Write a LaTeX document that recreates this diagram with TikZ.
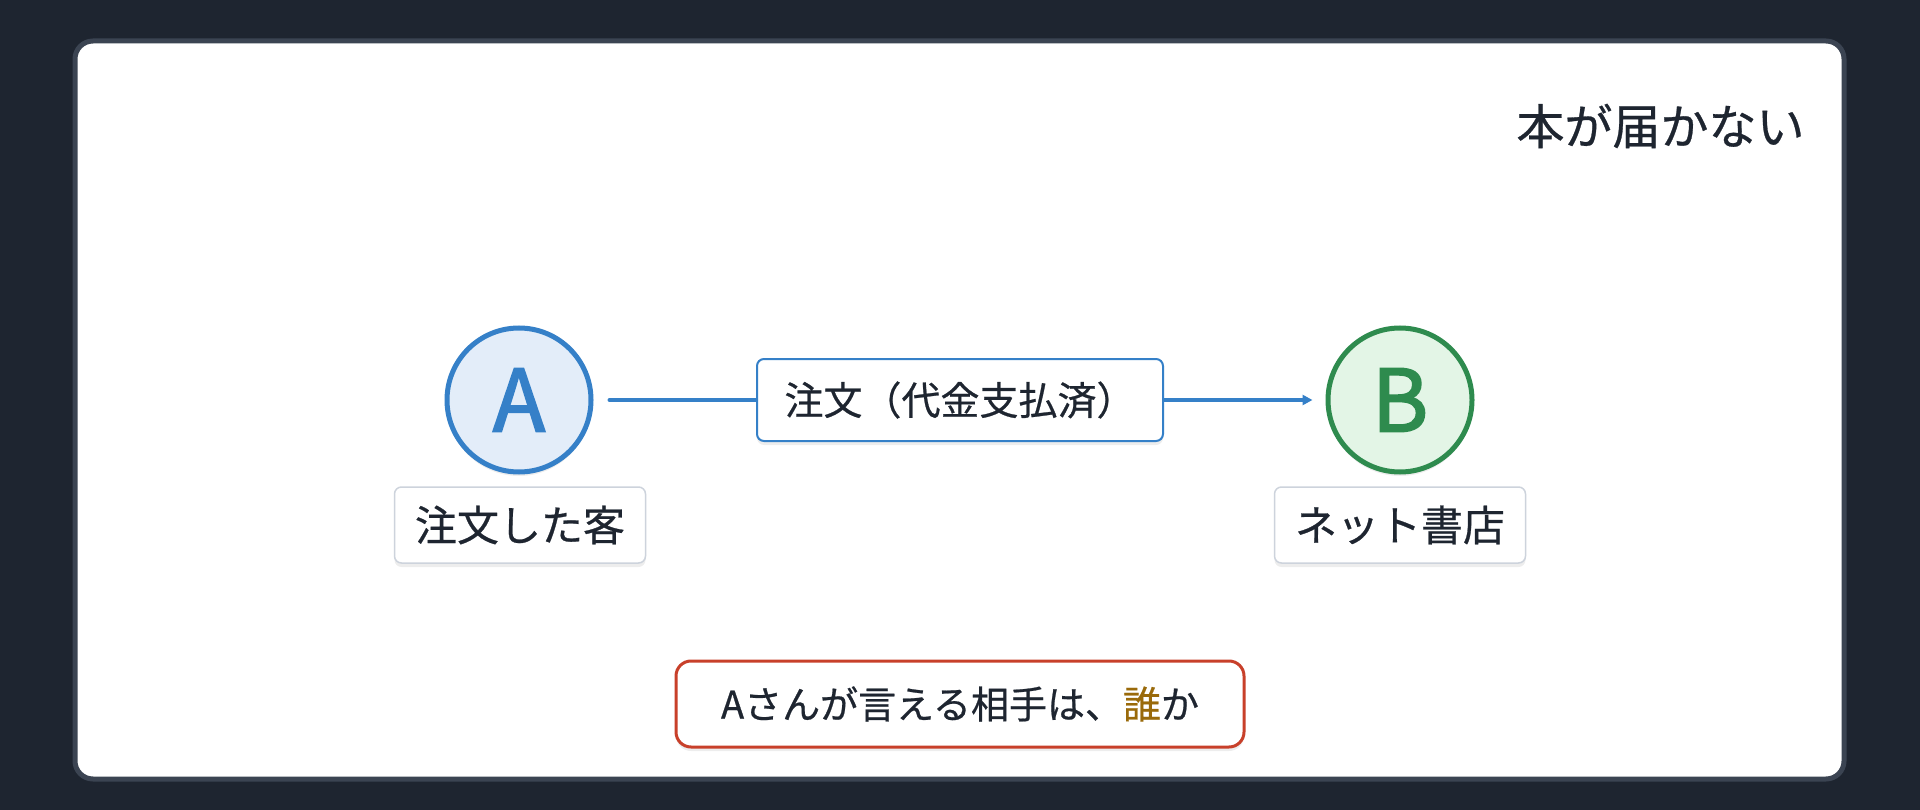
\documentclass[tikz,border=0pt]{standalone}
\usepackage{fontspec}
\setmainfont{Noto Sans CJK JP}[FakeBold=0.6]
\newfontfamily\letterfont{Noto Sans CJK JP}[FakeBold=2.2]
\usetikzlibrary{arrows.meta,shadows}
\definecolor{bgdark}{HTML}{1E2530}
\definecolor{cardborder}{HTML}{3B4452}
\definecolor{txt}{HTML}{1E2530}
\definecolor{ablue}{HTML}{3580C8}
\definecolor{afill}{HTML}{E3EDF9}
\definecolor{bgreen}{HTML}{2E8B4E}
\definecolor{bfill}{HTML}{E3F5E6}
\definecolor{lblborder}{HTML}{CDD3DC}
\definecolor{redb}{HTML}{C8402A}
\definecolor{gold}{HTML}{9A6A0A}
\tikzset{
  softshadow/.style={drop shadow={shadow xshift=0pt,shadow yshift=-4pt,fill=black,opacity=0.07}},
  party/.style={circle,line width=5pt,minimum size=144pt,inner sep=0pt,softshadow,font=\fontsize{86}{86}\letterfont},
  lbl/.style={draw=lblborder,line width=1.5pt,rounded corners=7pt,fill=white,minimum width=251pt,minimum height=76pt,inner sep=0pt,text=txt,font=\fontsize{42}{50}\selectfont,softshadow},
  edgelbl/.style={draw=ablue,line width=2pt,rounded corners=7pt,fill=white,minimum width=406pt,minimum height=82pt,inner sep=0pt,text=txt,font=\fontsize{39}{46}\selectfont,softshadow},
  qbox/.style={draw=redb,line width=3pt,rounded corners=15pt,fill=white,minimum width=568pt,minimum height=86pt,inner sep=0pt,text=txt,font=\fontsize{38}{46}\selectfont,softshadow},
  conn/.style={ablue,line width=4pt},
}
\begin{document}
\begin{tikzpicture}[x=1pt,y=-1pt]
\useasboundingbox (0,0) rectangle (1920,810);
\fill[bgdark] (0,0) rectangle (1920,810);
\draw[cardborder,line width=5pt,fill=white,rounded corners=18pt] (75,41) rectangle (1844,779);
\node[anchor=east,text=txt,font=\fontsize{48}{56}\selectfont] (title) at (1808,126) {本が届かない};
\node[party,draw=ablue,fill=afill,text=ablue] (A) at (519,400) {A};
\node[party,draw=bgreen,fill=bfill,text=bgreen] (B) at (1400,400) {B};
\node[lbl] (la) at (520,525) {注文した客};
\node[lbl] (lb) at (1400,525) {ネット書店};
\node[edgelbl] (e) at (960,400) {注文（代金支払済）};
\draw[conn,line cap=round] ([xshift=16pt]A.east) -- (e.west);
\draw[conn,-{Triangle[length=10pt,width=10pt]}] (e.east) -- ([xshift=-13pt]B.west);
\node[qbox] (q) at (960,704) {Aさんが言える相手は、\textcolor{gold}{誰}か};
\end{tikzpicture}
\end{document}
